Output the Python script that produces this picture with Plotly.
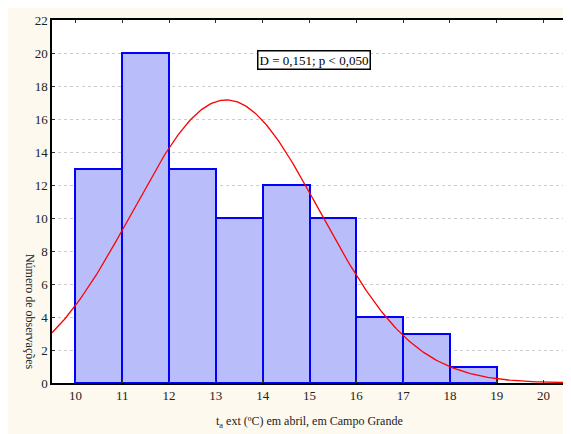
import numpy as np
import plotly.graph_objects as go

# histogram classes (ºC) and counts
bin_left = [10, 11, 12, 13, 14, 15, 16, 17, 18]
counts = [13, 20, 13, 10, 12, 10, 4, 3, 1]

# fitted normal
fit_mean = 13.22
fit_sd = 2.0
n_obs = sum(counts)

x_ticks = [10, 11, 12, 13, 14, 15, 16, 17, 18, 19, 20]
y_ticks = [0, 2, 4, 6, 8, 10, 12, 14, 16, 18, 20, 22]

bg = "#fdf9ef"
serif = "Liberation Serif"

fig = go.Figure()

fig.add_trace(go.Bar(
    x=[b + 0.5 for b in bin_left], y=counts, width=1,
    marker=dict(color="#b9bdf9", line=dict(color="#0000ff", width=2)),
    showlegend=False,
))

xs = np.linspace(9.5, 20.5, 300)
ys = n_obs * 1.0 / (fit_sd * np.sqrt(2 * np.pi)) * np.exp(-0.5 * ((xs - fit_mean) / fit_sd) ** 2)
fig.add_trace(go.Scatter(x=xs, y=ys, mode="lines",
                         line=dict(color="#ff0000", width=1.3), showlegend=False))

fig.update_xaxes(range=[9.5, 20.5], tickvals=x_ticks, showgrid=False,
                 showline=True, linecolor="black", linewidth=1.5, mirror="ticks",
                 ticks="inside", ticklen=3, tickcolor="#333",
                 tickfont=dict(family=serif, size=13, color="#222"), zeroline=False)
fig.update_yaxes(range=[0, 22], tickvals=y_ticks, showgrid=True,
                 gridcolor="#cccccc", griddash="dot", gridwidth=1,
                 showline=True, linecolor="black", linewidth=1.5, mirror="ticks",
                 ticks="inside", ticklen=3, tickcolor="#333",
                 tickfont=dict(family=serif, size=13, color="#222"), zeroline=False)

fig.add_annotation(text="D = 0,151; p < 0,050", xref="paper", yref="paper",
                   x=(315 - 52) / 517, y=(383 - 60) / 363, showarrow=False,
                   xanchor="center", yanchor="middle",
                   font=dict(family=serif, size=13, color="black"),
                   bgcolor="white", bordercolor="black", borderwidth=1.5, borderpad=1)

fig.add_annotation(text="t<sub>a</sub> ext (ºC) em abril, em Campo Grande",
                   xref="paper", yref="paper", x=0.5, y=(383 - 422) / 363,
                   xanchor="center", yanchor="middle",
                   showarrow=False, font=dict(family=serif, size=12, color="#222"))

fig.add_annotation(text="Número de observações", textangle=90,
                   xref="paper", yref="paper", x=(30 - 52) / 517, y=(383 - 312) / 363,
                   xanchor="center", yanchor="middle",
                   showarrow=False, font=dict(family=serif, size=12, color="#222"))

# the page body adds an 8px margin, so the figure is sized to fit what is left
fig.update_layout(
    width=563, height=426,
    margin=dict(l=44, r=2, t=12, b=51),
    paper_bgcolor=bg, plot_bgcolor="white",
    bargap=0,
)

fig.write_html("out.html")
